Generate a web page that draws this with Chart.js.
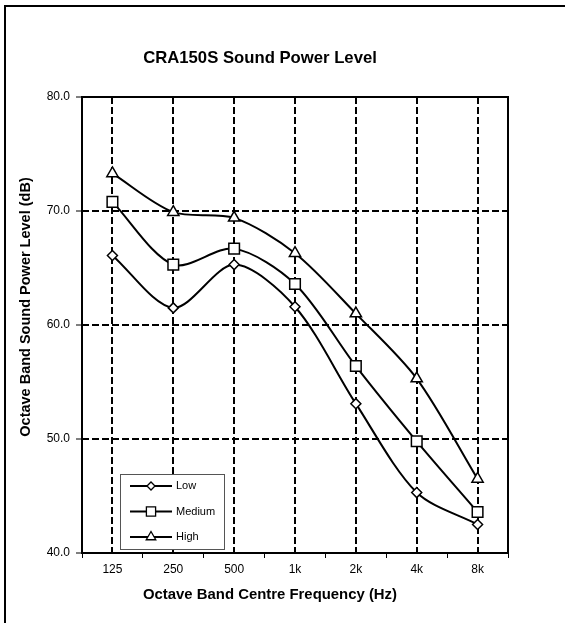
<!DOCTYPE html>
<html>
<head>
<meta charset="utf-8">
<style>
  html, body { margin: 0; padding: 0; background: #fff; }
  canvas { display: block; }
</style>
</head>
<body>
<canvas id="chart" width="565" height="623"></canvas>
<script src="https://cdn.jsdelivr.net/npm/chart.js@4.4.1/dist/chart.umd.min.js"></script>
<script>
  // octave band data (dB)
  const bands = ['125', '250', '500', '1k', '2k', '4k', '8k'];
  const low = [66.1, 61.5, 65.3, 61.6, 53.1, 45.3, 42.5];
  const medium = [70.8, 65.3, 66.7, 63.6, 56.4, 49.8, 43.6];
  const high = [73.3, 69.9, 69.4, 66.3, 61.0, 55.3, 46.5];
  const yMin = 40, yMax = 80, yStep = 10;

  const FONT = '"Liberation Sans", Arial, sans-serif';

  function mark(c, style, x, y, r) {
    c.beginPath();
    if (style === 'rectRot') {
      c.moveTo(x - r, y); c.lineTo(x, y - r); c.lineTo(x + r, y); c.lineTo(x, y + r);
      c.closePath();
    } else if (style === 'rect') {
      const s = r * Math.SQRT1_2;
      c.rect(x - s, y - s, 2 * s, 2 * s);
    } else {
      c.moveTo(x, y - r);
      c.lineTo(x + r * Math.sin(Math.PI * 2 / 3), y - r * Math.cos(Math.PI * 2 / 3));
      c.lineTo(x + r * Math.sin(Math.PI * 4 / 3), y - r * Math.cos(Math.PI * 4 / 3));
      c.closePath();
    }
    c.fill();
    c.stroke();
  }

  const decor = {
    id: 'decor',
    beforeDraw(chart) {
      const c = chart.ctx;
      c.save();
      c.fillStyle = '#fff';
      c.fillRect(0, 0, chart.width, chart.height);
      c.fillStyle = '#000';
      c.fillRect(4, 5, chart.width, 2);
      c.fillRect(4, 5, 2, chart.height);
      c.restore();
    },
    beforeDatasetsDraw(chart) {
      const {left, top, right, bottom} = chart.chartArea;
      const c = chart.ctx;
      c.save();
      c.lineWidth = 2;
      c.strokeStyle = '#000';
      c.strokeRect(left, top, right - left, bottom - top);
      c.restore();
    },
    afterDraw(chart) {
      const c = chart.ctx;
      c.save();
      c.fillStyle = '#000';
      c.textAlign = 'center';
      c.textBaseline = 'middle';
      c.font = 'bold 16.7px ' + FONT;
      c.fillText('CRA150S Sound Power Level', 260, 58);
      c.font = 'bold 14.9px ' + FONT;
      c.fillText('Octave Band Centre Frequency (Hz)', 270, 595);
      c.save();
      c.translate(26, 307);
      c.rotate(-Math.PI / 2);
      c.font = 'bold 14.5px ' + FONT;
      c.fillText('Octave Band Sound Power Level (dB)', 0, 0);
      c.restore();

      // legend box inside the plot
      c.fillStyle = '#fff';
      c.fillRect(120, 474, 104, 75);
      c.strokeStyle = '#555';
      c.lineWidth = 1;
      c.strokeRect(120.5, 474.5, 104, 75);
      const sizes = [4, 6.5, 5.5];
      chart.data.datasets.forEach((ds, i) => {
        const y = 486 + i * 25.5;
        c.strokeStyle = '#000';
        c.lineWidth = 2;
        c.beginPath();
        c.moveTo(130, y); c.lineTo(172, y);
        c.stroke();
        c.fillStyle = '#fff';
        c.lineWidth = 1.3;
        mark(c, ds.pointStyle, 151, y, sizes[i]);
        c.fillStyle = '#000';
        c.font = '11px ' + FONT;
        c.textAlign = 'left';
        c.fillText(ds.label, 176, y);
      });
      c.restore();
    }
  };

  const lineStyle = {
    borderColor: '#000',
    borderWidth: 2,
    pointBackgroundColor: '#fff',
    pointBorderColor: '#000',
    pointBorderWidth: 1.5,
    tension: 0.3,
    fill: false
  };

  new Chart(document.getElementById('chart'), {
    type: 'line',
    data: {
      labels: bands,
      datasets: [
        {...lineStyle, label: 'Low', data: low, pointStyle: 'rectRot', pointRadius: 5},
        {...lineStyle, label: 'Medium', data: medium, pointStyle: 'rect', pointRadius: 7.5},
        {...lineStyle, label: 'High', data: high, pointStyle: 'triangle', pointRadius: 6.5}
      ]
    },
    options: {
      responsive: false,
      animation: false,
      layout: { padding: { top: 97, right: 57, bottom: 0, left: 0 } },
      plugins: {
        legend: { display: false },
        title: { display: false },
        tooltip: { enabled: false }
      },
      scales: {
        xg: {
          type: 'category',
          position: 'bottom',
          offset: true,
          afterFit(scale) { scale.height = 0; },
          ticks: { display: false },
          grid: { offset: false, color: '#000', lineWidth: 2, drawTicks: false },
          border: { display: false, dash: [7, 3] }
        },
        x: {
          type: 'category',
          position: 'bottom',
          offset: true,
          afterFit(scale) { scale.height = 70; },
          ticks: { color: '#000', font: { family: FONT, size: 12 }, padding: 4 },
          grid: { offset: true, drawOnChartArea: false, tickLength: 5, tickColor: '#000', tickWidth: 1 },
          border: { display: false }
        },
        y: {
          min: yMin,
          max: yMax,
          afterFit(scale) { scale.width = 82; },
          ticks: {
            stepSize: yStep,
            color: '#000',
            padding: 6,
            font: { family: FONT, size: 12 },
            callback: v => v.toFixed(1)
          },
          grid: { color: '#000', lineWidth: 2, tickLength: 6, tickColor: '#000', tickWidth: 1 },
          border: { display: false, dash: [7, 3] }
        }
      }
    },
    plugins: [decor]
  });
</script>
</body>
</html>
